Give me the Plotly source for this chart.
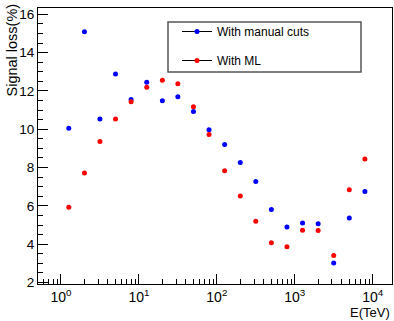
import plotly.graph_objects as go

energy = [1.26, 2.0, 3.16, 5.01, 7.94, 12.6, 20.0, 31.6, 50.1, 79.4,
          126, 200, 316, 501, 794, 1259, 1995, 3162, 5012, 7943]
loss_manual = [10.05, 15.09, 10.54, 12.89, 11.55, 12.45, 11.49, 11.70, 10.92, 9.97,
               9.20, 8.26, 7.27, 5.81, 4.90, 5.11, 5.06, 3.01, 5.36, 6.75]
loss_ml = [5.93, 7.71, 9.36, 10.54, 11.43, 12.19, 12.56, 12.37, 11.18, 9.72,
           7.83, 6.51, 5.20, 4.07, 3.86, 4.73, 4.71, 3.41, 6.84, 8.44]
series_names = ["With manual cuts", "With ML"]
series_colors = ["#0000ff", "#ff0000"]
x_tickvals = [1, 10, 100, 1000, 10000]
x_ticktext = ["10<sup>0</sup>", "10<sup>1</sup>", "10<sup>2</sup>", "10<sup>3</sup>", "10<sup>4</sup>"]

FONT = "Liberation Sans, Arial, sans-serif"

L, R, T, B = 38, 2, 8, 37
PW, PH = 394 - L - R, 321 - T - B

fig = go.Figure()
for name, vals, col in zip(series_names, [loss_manual, loss_ml], series_colors):
    fig.add_trace(go.Scatter(x=energy, y=vals, mode="markers", name=name,
                             marker=dict(color=col, size=5), showlegend=False))
    # legend entry: black line with coloured marker (ROOT "lp" style)
    fig.add_trace(go.Scatter(x=[None], y=[None], mode="lines+markers", name=name,
                             line=dict(color="black", width=1),
                             marker=dict(color=col, size=5), showlegend=True,
                             legendgroup=name))

fig.update_layout(
    width=394, height=321,
    margin=dict(l=L, r=R, t=T, b=B),
    paper_bgcolor="white", plot_bgcolor="white",
    font=dict(family=FONT, size=13, color="black"),
    showlegend=True,
    legend=dict(x=(177 - L) / PW, y=(284 - 17) / PH, xanchor="left", yanchor="top",
                bgcolor="rgba(0,0,0,0)", borderwidth=0,
                font=dict(size=12, family=FONT),
                tracegroupgap=10, traceorder="grouped"),
    shapes=[
        dict(type="rect", xref="paper", yref="paper",
             x0=(168 - L) / PW, x1=(361 - L) / PW,
             y0=(284 - 72) / PH, y1=(284 - 22) / PH,
             line=dict(color="#555555", width=1.5), fillcolor="rgba(0,0,0,0)"),
    ],
    annotations=[
        dict(text="E(TeV)", xref="paper", yref="paper", x=1, y=0,
             xanchor="right", yanchor="top", yshift=-19, showarrow=False,
             font=dict(size=13, family=FONT)),
        dict(text="Signal loss(%)", xref="paper", yref="paper", x=0, y=1,
             xanchor="center", yanchor="top", xshift=-27, yshift=6,
             textangle=-90, showarrow=False,
             font=dict(size=14.5, family=FONT)),
    ],
)
fig.update_xaxes(
    type="log", range=[-0.295, 4.248],
    showgrid=False, zeroline=False,
    showline=True, linecolor="black", linewidth=1, mirror=True,
    ticks="inside", ticklen=10, tickcolor="black",
    tickvals=x_tickvals, ticktext=x_ticktext,
    tickfont=dict(size=14),
    minor=dict(ticks="inside", ticklen=5, tickcolor="black", dtick="D1", showgrid=False),
)
fig.update_yaxes(
    range=[1.92, 16.33],
    showgrid=False, zeroline=False,
    showline=True, linecolor="black", linewidth=1, mirror=True,
    ticks="inside", ticklen=10, tickcolor="black",
    dtick=2, tick0=0,
    tickfont=dict(size=13.5),
    minor=dict(ticks="inside", ticklen=5, tickcolor="black", dtick=0.5, showgrid=False),
)

fig.write_html("out.html")
